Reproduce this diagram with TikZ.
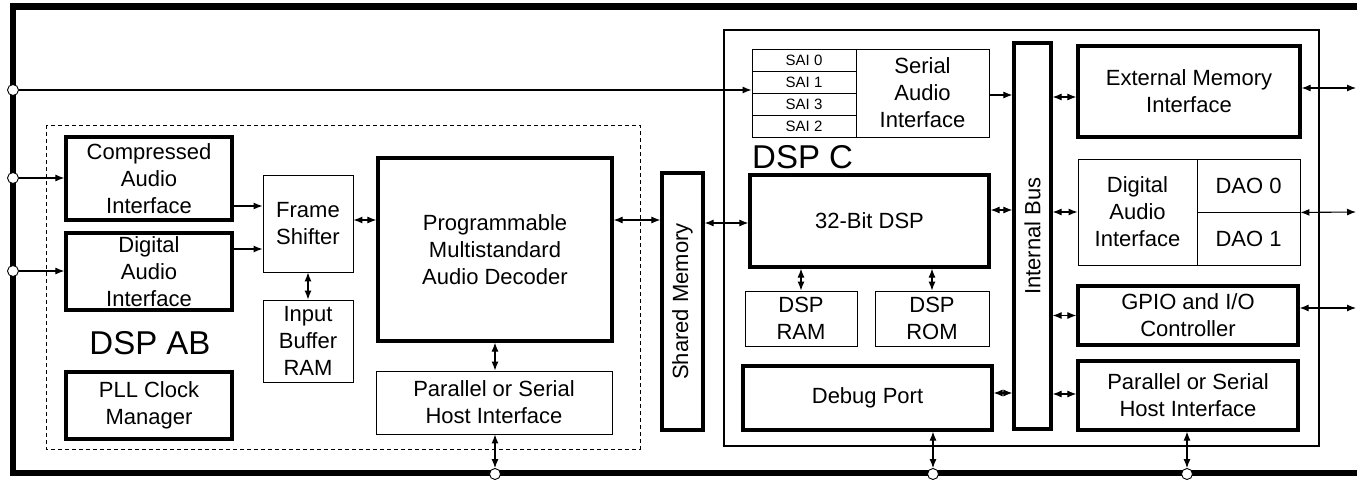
\documentclass[tikz,border=0pt]{standalone}
\usepackage{graphicx}
\usepackage{fontspec}
\setmainfont{Liberation Sans}
\usetikzlibrary{arrows.meta,positioning,calc}

\begin{document}
\begin{tikzpicture}[x=1pt, y=-1pt,
  block/.style={draw, line width=3.2pt, align=center, inner sep=0pt,
    font=\fontsize{22}{27}\selectfont},
  thinblock/.style={block, line width=0.9pt},
  sairow/.style={draw, line width=0.9pt, minimum width=104pt,
    minimum height=22pt, inner sep=0pt, font=\fontsize{15}{15}\selectfont},
  port/.style={circle, draw, fill=white, line width=0.9pt,
    minimum size=11pt, inner sep=0pt},
  title/.style={inner sep=0pt, font=\fontsize{33}{33}\selectfont},
  frame/.style={line width=6.5pt},
  arr/.style={-{Latex[length=9pt,width=7pt]}, line width=1.1pt},
  darr/.style={{Latex[length=9pt,width=7pt]}-{Latex[length=9pt,width=7pt]},
    line width=1.1pt},
]
\useasboundingbox (0,0) rectangle (1357,484);

% Chip outline
\draw[frame] (1357,6.5) -| (13,473) -- (1357,473);

% DSP AB region
\draw[line width=0.8pt, dash pattern=on 4pt off 3pt] (46,125) rectangle (640,449);
\node[title] (dspab) at (150,343) {DSP AB};

\node[block, minimum width=166pt, minimum height=83pt] (cai) at (149,178.5)
  {Compressed\\Audio\\Interface};
\node[block, minimum width=166pt, minimum height=77pt] (dai) at (149,271.5)
  {Digital\\Audio\\Interface};
\node[block, minimum width=166pt, minimum height=67pt] (pll) at (149,405.5)
  {PLL Clock\\Manager};
\node[thinblock, minimum width=90pt, minimum height=97pt] (fs) at (308,223.5)
  {Frame\\Shifter};
\node[thinblock, minimum width=90pt, minimum height=82pt] (ibr) at (308,341)
  {Input\\Buffer\\RAM};
\node[block, minimum width=234pt, minimum height=183pt] (pmad) at (495,249.5)
  {Programmable\\Multistandard\\Audio Decoder};
\node[thinblock, minimum width=236pt, minimum height=63pt] (phi) at (494,402.5)
  {Parallel or Serial\\Host Interface};

% Shared memory
\node[block, minimum width=41pt, minimum height=257pt] (shm) at (682.5,301.5)
  {\rotatebox{90}{Shared Memory}};

% DSP C region
\draw[line width=1.4pt] (724,30) rectangle (1319,446);
\node[title, anchor=west] (dspc) at (752,157) {DSP C};

\node[sairow] (sai0) at (804,60) {SAI 0};
\node[sairow] (sai1) at (804,82) {SAI 1};
\node[sairow] (sai3) at (804,104) {SAI 3};
\node[sairow] (sai2) at (804,126) {SAI 2};
\node[thinblock, minimum width=133pt, minimum height=88pt] (sai) at (922.5,93)
  {Serial\\Audio\\Interface};
\node[block, minimum width=239pt, minimum height=92pt] (dsp) at (869.5,221)
  {32-Bit DSP};
\node[thinblock, minimum width=112pt, minimum height=55pt] (dram) at (801,318.5)
  {DSP\\RAM};
\node[thinblock, minimum width=114pt, minimum height=55pt] (drom) at (932,318.5)
  {DSP\\ROM};
\node[block, minimum width=249pt, minimum height=64pt] (dbg) at (867.5,398)
  {Debug Port};
\node[block, minimum width=37pt, minimum height=386pt] (ibus) at (1032.5,236)
  {\rotatebox{90}{Internal Bus}};

\node[block, minimum width=222pt, minimum height=91pt] (emi) at (1189,91.5)
  {External Memory\\Interface};
\node[thinblock, minimum width=119pt, minimum height=106pt] (dair) at (1137.5,212)
  {Digital\\Audio\\Interface};
\node[thinblock, minimum width=103pt, minimum height=53pt] (dao0) at (1248.5,185.5)
  {DAO 0};
\node[thinblock, minimum width=103pt, minimum height=53pt] (dao1) at (1248.5,238.5)
  {DAO 1};
\node[block, minimum width=220pt, minimum height=59pt] (gpio) at (1188,315.5)
  {GPIO and I/O\\Controller};
\node[block, minimum width=220pt, minimum height=69pt] (hir) at (1188,395.5)
  {Parallel or Serial\\Host Interface};

% Pins
\node[port] (p1) at (13,90) {};
\node[port] (p2) at (13,178) {};
\node[port] (p3) at (13,271) {};
\node[port] (p4) at (495,474) {};
\node[port] (p5) at (933,474) {};
\node[port] (p6) at (1187,474) {};
\coordinate (e1) at (1356,88);
\coordinate (e2) at (1356,212);
\coordinate (e3) at (1356,308);

% Arrows
\draw[arr] (p1) -- (sai1.west |- p1);
\draw[arr] (p2) -- (cai.west |- p2);
\draw[arr] (p3) -- (dai.west |- p3);
\draw[arr] (cai.east |- 0,206) -- (fs.west |- 0,206);
\draw[arr] (dai.east |- 0,249) -- (fs.west |- 0,249);
\draw[darr] (fs.east |- 0,220) -- (pmad.west |- 0,220);
\draw[darr] (fs) -- (ibr);
\draw[darr] (pmad.south) -- (pmad.south |- phi.north);
\draw[darr] (phi.south -| p4) -- (p4);
\draw[darr] (pmad.east |- 0,220) -- (shm.west |- 0,220);
\draw[darr] (shm.east |- 0,223) -- (dsp.west |- 0,223);
\draw[arr] (sai.east |- 0,95) -- (ibus.west |- 0,95);
\draw[darr] (dsp.east |- 0,210) -- (ibus.west |- 0,210);
\draw[darr] (dsp.south -| dram.north) -- (dram.north);
\draw[darr] (dsp.south -| drom.north) -- (drom.north);
\draw[darr] (dbg.east |- 0,393) -- (ibus.west |- 0,393);
\draw[darr] (dbg.south -| p5) -- (p5);
\draw[darr] (ibus.east |- 0,97) -- (emi.west |- 0,97);
\draw[darr] (ibus.east |- dair.west) -- (dair.west);
\draw[darr] (ibus.east |- gpio.west) -- (gpio.west);
\draw[darr] (ibus.east |- 0,394) -- (hir.west |- 0,394);
\draw[darr] (emi.east |- e1) -- (e1);
\draw[darr] (dao0.south east) -- (e2);
\draw[darr] (gpio.east |- e3) -- (e3);
\draw[darr] (hir.south -| p6) -- (p6);

\end{tikzpicture}
\end{document}
